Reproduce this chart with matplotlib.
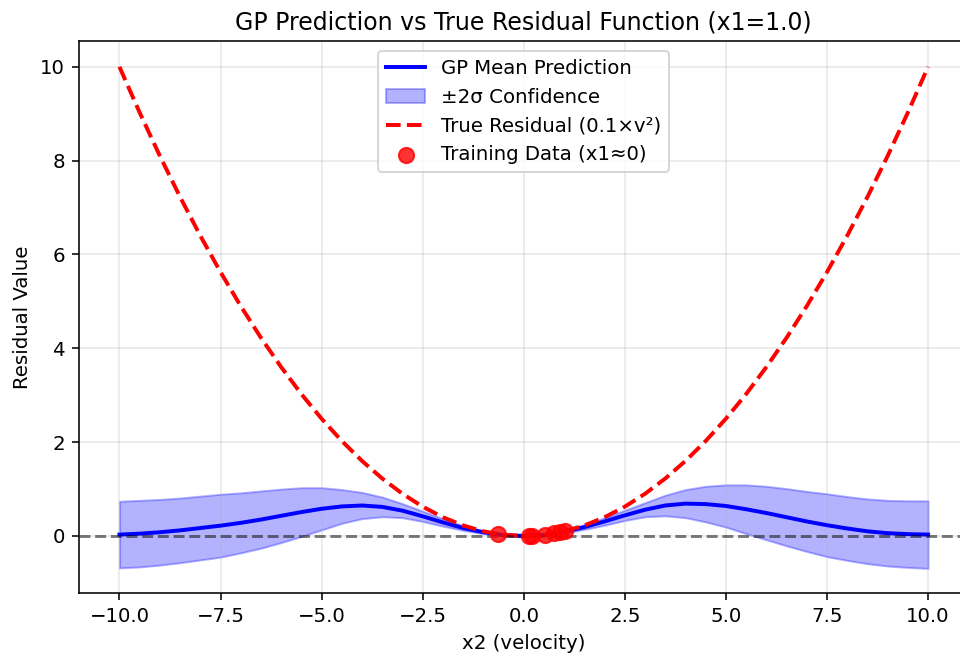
import matplotlib
matplotlib.use("Agg")
import matplotlib.pyplot as plt
import numpy as np

# Velocity grid (x2) at which curves are read
x2_grid = [-10.0, -9.5, -9.0, -8.5, -8.0, -7.5, -7.0, -6.5, -6.0, -5.5, -5.0,
           -4.5, -4.0, -3.5, -3.0, -2.5, -2.0, -1.5, -1.0, -0.5, 0.0,
           0.5, 1.0, 1.5, 2.0, 2.5, 3.0, 3.5, 4.0, 4.5, 5.0,
           5.5, 6.0, 6.5, 7.0, 7.5, 8.0, 8.5, 9.0, 9.5, 10.0]

# GP mean prediction
gp_mean = [0.03, 0.05, 0.08, 0.12, 0.17, 0.22, 0.28, 0.35, 0.43, 0.51, 0.58,
           0.63, 0.65, 0.62, 0.54, 0.42, 0.29, 0.17, 0.08, 0.02, 0.00,
           0.02, 0.09, 0.19, 0.31, 0.44, 0.56, 0.65, 0.69, 0.68, 0.64,
           0.57, 0.49, 0.40, 0.31, 0.23, 0.16, 0.10, 0.06, 0.04, 0.03]

# Half-width of the band (2 sigma)
two_sigma = [0.71, 0.71, 0.70, 0.69, 0.68, 0.67, 0.64, 0.61, 0.57, 0.52, 0.45,
             0.36, 0.28, 0.21, 0.15, 0.11, 0.08, 0.05, 0.03, 0.02, 0.02,
             0.02, 0.03, 0.05, 0.08, 0.11, 0.15, 0.22, 0.30, 0.38, 0.45,
             0.52, 0.57, 0.61, 0.64, 0.67, 0.68, 0.69, 0.70, 0.71, 0.72]

# True residual curve
true_residual = [10.0, 9.025, 8.1, 7.225, 6.4, 5.625, 4.9, 4.225, 3.6, 3.025, 2.5,
                 2.025, 1.6, 1.225, 0.9, 0.625, 0.4, 0.225, 0.1, 0.025, 0.0,
                 0.025, 0.1, 0.225, 0.4, 0.625, 0.9, 1.225, 1.6, 2.025, 2.5,
                 3.025, 3.6, 4.225, 4.9, 5.625, 6.4, 7.225, 8.1, 9.025, 10.0]

# Training data (x1 ~ 0)
train_x2 = [-0.63, 0.12, 0.20, 0.53, 0.74, 0.90, 1.03]
train_y = [0.04, 0.00, 0.00, 0.03, 0.06, 0.08, 0.10]

x = np.array(x2_grid)
m = np.array(gp_mean)
s2 = np.array(two_sigma)

DPI = 142
fig = plt.figure(figsize=(960 / DPI, 660 / DPI), dpi=DPI)
ax = fig.add_axes([79 / 960, 67 / 660, 889.5 / 960, 552 / 660])

ax.plot(x, m, color="blue", linewidth=2, label="GP Mean Prediction")
ax.fill_between(x, m - s2, m + s2, color="blue", alpha=0.3, label="±2σ Confidence")
ax.plot(x, true_residual, color="red", linestyle="--", linewidth=2,
        label="True Residual (0.1×v²)")
ax.scatter(train_x2, train_y, color="red", s=60, alpha=0.8, zorder=5,
           label="Training Data (x1≈0)")
ax.axhline(0, color="black", linestyle="--", alpha=0.5)

ax.set_xlim(-11, 11)
ax.set_ylim(-1.215, 10.55)
ax.set_xlabel("x2 (velocity)")
ax.set_ylabel("Residual Value")
ax.set_title("GP Prediction vs True Residual Function (x1=1.0)")
ax.grid(True, alpha=0.3)
ax.legend(loc="upper center")

fig.savefig("out.png", dpi=DPI)
